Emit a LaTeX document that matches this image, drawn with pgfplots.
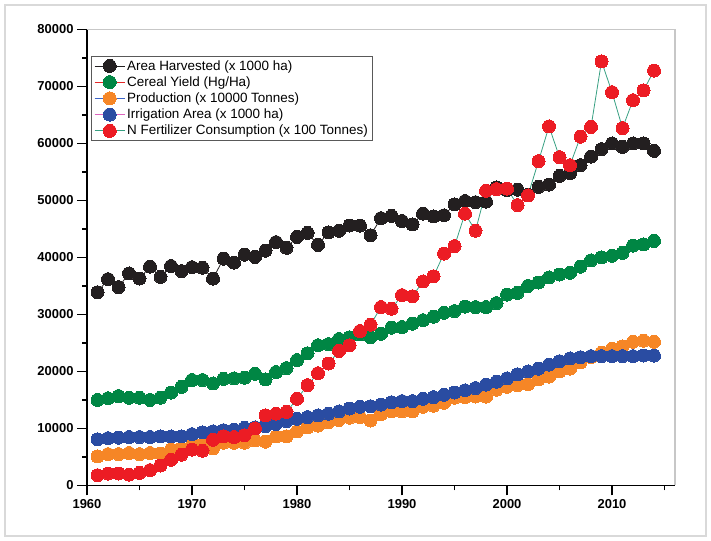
\documentclass[border=0pt]{standalone}
\usepackage{fontspec}
\setmainfont{Liberation Sans}
\usepackage{pgfplots}
\usepackage{pgfplotstable}
\pgfplotsset{compat=1.18}
\definecolor{mBlack}{RGB}{35,31,32}
\definecolor{mGreen}{RGB}{0,134,68}
\definecolor{mOrange}{RGB}{246,134,38}
\definecolor{mBlue}{RGB}{42,76,162}
\definecolor{mRed}{RGB}{236,28,36}
\definecolor{lRed}{RGB}{228,40,40}
\definecolor{lBlue}{RGB}{60,100,200}
\definecolor{lMag}{RGB}{222,100,190}
\definecolor{lTeal}{RGB}{56,160,130}
\pgfplotstableread{
year area yield prod irr nfert
1961 33900 15000 5100 8100 1800
1962 36200 15300 5500 8300 2100
1963 34800 15700 5500 8400 2100
1964 37200 15400 5700 8500 1900
1965 36300 15400 5500 8500 2200
1966 38400 15000 5700 8500 2700
1967 36600 15400 5600 8600 3500
1968 38500 16300 6300 8600 4500
1969 37600 17300 6500 8600 5400
1970 38300 18500 7100 9000 6300
1971 38200 18500 7200 9300 6100
1972 36300 17900 6500 9500 8000
1973 39800 18700 7500 9700 8600
1974 39100 18800 7500 9800 8500
1975 40500 18900 7500 10100 8800
1976 40100 19600 7900 10200 10000
1977 41200 18600 7700 10400 12300
1978 42700 19900 8600 10800 12600
1979 41700 20600 8600 11300 12900
1980 43600 22000 9500 11700 15200
1981 44300 23200 10200 12000 17600
1982 42200 24600 10500 12300 19700
1983 44400 24800 11100 12600 21400
1984 44700 25700 11500 13000 23600
1985 45600 26000 11900 13500 24600
1986 45600 26500 12000 13800 27100
1987 43900 26000 11400 13900 28200
1988 46900 26600 12500 14200 31300
1989 47300 27700 13000 14600 31000
1990 46400 27800 13000 14800 33400
1991 45800 28400 13000 14800 33200
1992 47700 29000 13800 15200 35800
1993 47200 29600 14000 15500 36700
1994 47400 30300 14500 15900 40700
1995 49300 30600 15400 16300 42000
1996 49900 31400 15500 16700 47700
1997 49700 31300 15600 17100 44700
1998 49800 31300 15600 17700 51700
1999 52300 32000 16800 18200 52000
2000 51800 33500 17300 18800 52100
2001 51900 33800 17600 19500 49200
2002 51000 35000 17800 20000 50900
2003 52400 35600 18600 20500 56900
2004 52800 36500 19100 21200 63000
2005 54300 37000 20000 21800 57600
2006 54800 37300 20500 22300 56200
2007 56200 38400 21600 22500 61200
2008 57700 39500 22500 22700 62900
2009 59000 40000 23300 22700 74400
2010 60000 40300 24000 22700 69000
2011 59400 40800 24400 22700 62700
2012 60000 42100 25200 22700 67600
2013 60000 42300 25400 22800 69300
2014 58700 42900 25200 22800 72800
}\data
\begin{document}
\begin{tikzpicture}[x=1bp,y=1bp]
\useasboundingbox (0,0) rectangle (711,541);
\draw[line width=1.3bp, black!15] (5,5) rectangle (706,536);
\begin{axis}[
  name=ax,
  at={(87bp,55.5bp)}, anchor=south west,
  scale only axis, width=588bp, height=456bp,
  xmin=1960, xmax=2016, ymin=0, ymax=80000,
  axis lines=left,
  axis line style={-, line width=1.4bp, black},
  xtick={1960,1970,...,2010}, minor xtick={1965,1975,...,2015},
  ytick={0,10000,...,80000}, minor ytick={5000,15000,...,75000},
  tick align=outside, major tick length=10bp, minor tick length=5bp,
  every tick/.style={line width=1.2bp, black},
  every minor tick/.style={line width=1.2bp, black},
  ticklabel style={font=\fontsize{13}{15}\selectfont\bfseries},
  /pgf/number format/assume math mode=true,
  /pgf/number format/1000 sep={},
  scaled y ticks=false,
  every axis plot/.append style={line width=0.8bp, mark=*, mark size=6.5bp},
  legend style={at={(0.0068,0.942)}, anchor=north west, draw=black!65,
    line width=0.7bp, font=\fontsize{13.5}{15}\selectfont,
    nodes={inner sep=2bp}, row sep=1bp},
  legend cell align=left,
  legend image code/.code={%
    \draw[mark repeat=2,mark phase=2,#1] plot coordinates {(0bp,0bp) (15bp,0bp) (30bp,0bp)};},
]
\addplot[color=mBlack, mark options={draw=mBlack, fill=mBlack, line width=0pt}] table[x=year,y=area] {\data};
\addlegendentry{Area Harvested (x 1000 ha)}
\addplot[color=lRed, mark options={draw=mGreen, fill=mGreen, line width=0pt}] table[x=year,y=yield] {\data};
\addlegendentry{Cereal Yield (Hg/Ha)}
\addplot[color=lBlue, mark options={draw=mOrange, fill=mOrange, line width=0pt}] table[x=year,y=prod] {\data};
\addlegendentry{Production (x 10000 Tonnes)}
\addplot[color=lMag, mark options={draw=mBlue, fill=mBlue, line width=0pt}] table[x=year,y=irr] {\data};
\addlegendentry{Irrigation Area (x 1000 ha)}
\addplot[color=lTeal, mark options={draw=mRed, fill=mRed, line width=0pt}] table[x=year,y=nfert] {\data};
\addlegendentry{N Fertilizer Consumption (x 100 Tonnes)}
\end{axis}
\draw[black!22, line width=1.2bp] (ax.north west) -- (ax.north east) -- (ax.south east);
\end{tikzpicture}
\end{document}
